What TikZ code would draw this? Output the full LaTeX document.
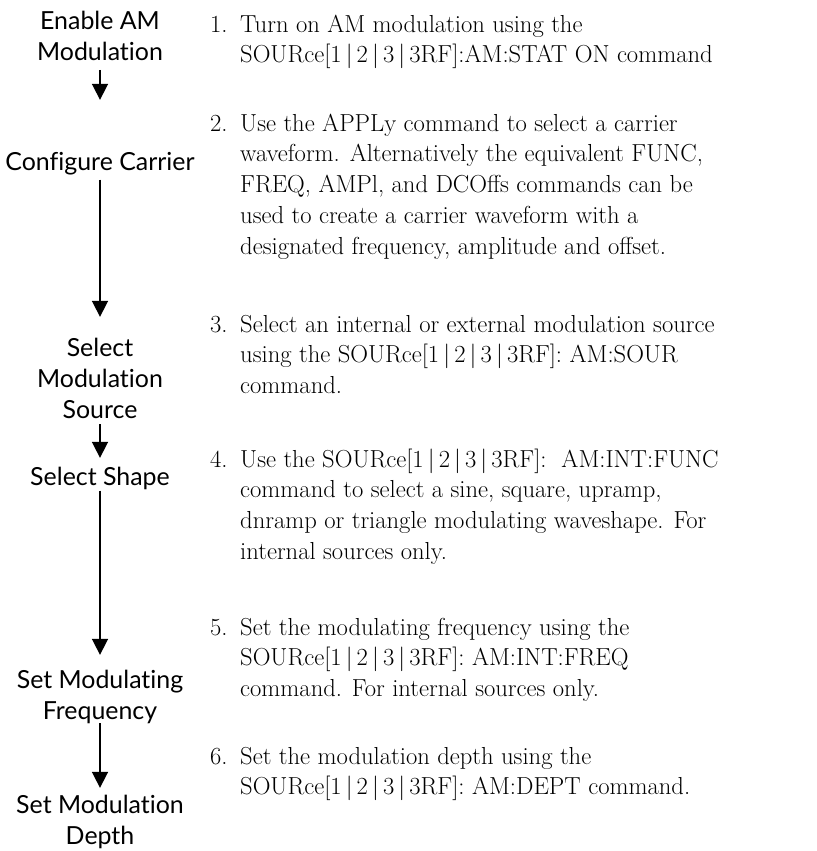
\documentclass[tikz,border=0pt]{standalone}
\usepackage{fontspec}
\usepackage{tikz}
\usetikzlibrary{arrows.meta}
\newfontfamily\labelfont[Ligatures=NoCommon]{Lato}
\newcommand\srcname{SOURce[1\,|\,2\,|\,3\,|\,3RF]}

\begin{document}
\begin{tikzpicture}[x=1bp,y=-1bp,
  steplabel/.style={anchor=base,inner sep=0pt,font=\labelfont\fontsize{25}{31.5}\selectfont},
  stepinfo/.style={anchor=base west,inner sep=0pt,font=\fontsize{24.7}{31}\selectfont},
  flow/.style={-{Triangle[width=16bp,length=16bp]},line width=1.7bp}]
\useasboundingbox (0,0) rectangle (817,851);
% left column
\node[steplabel] (enable) at (100,29) {\begin{tabular}[t]{@{}c@{}}Enable AM\\Modulation\end{tabular}};
\node[steplabel] (carrier) at (100,170) {\begin{tabular}[t]{@{}c@{}}Configure Carrier\end{tabular}};
\node[steplabel] (source) at (100,356) {\begin{tabular}[t]{@{}c@{}}Select\\Modulation\\Source\end{tabular}};
\node[steplabel] (shape) at (100,485) {\begin{tabular}[t]{@{}c@{}}Select Shape\end{tabular}};
\node[steplabel] (freq) at (100,688) {\begin{tabular}[t]{@{}c@{}}Set Modulating\\Frequency\end{tabular}};
\node[steplabel] (depth) at (100,813) {\begin{tabular}[t]{@{}c@{}}Set Modulation\\Depth\end{tabular}};
\draw[flow,shorten >=48bp] (enable) -- (carrier);
\draw[flow,shorten >=17bp] (carrier) -- (source);
\draw[flow,shorten <=-4bp,shorten >=5bp] (source) -- (shape);
\draw[flow,shorten <=-4bp,shorten >=11bp] (shape) -- (freq);
\draw[flow,shorten <=-6bp,shorten >=3bp] (freq) -- (depth);
% right column
\node[stepinfo] (s1) at (210,32) {\begin{tabular}[t]{@{}p{30bp}@{}l@{}}
1. & Turn on AM modulation using the\\
   & \srcname:AM:STAT ON command\end{tabular}};
\node[stepinfo] (s2) at (210,131) {\begin{tabular}[t]{@{}p{30bp}@{}l@{}}
2. & Use the APPLy command to select a carrier\\
   & waveform. Alternatively the equivalent FUNC,\\
   & FREQ, AMPl, and DCOffs commands can be\\
   & used to create a carrier waveform with a\\
   & designated frequency, amplitude and offset.\end{tabular}};
\node[stepinfo] (s3) at (210,332) {\begin{tabular}[t]{@{}p{30bp}@{}l@{}}
3. & Select an internal or external modulation source\\
   & using the \srcname: AM:SOUR\\
   & command.\end{tabular}};
\node[stepinfo] (s4) at (210,467) {\begin{tabular}[t]{@{}p{30bp}@{}l@{}}
4. & Use the \srcname:\ \ AM:INT:FUNC\\
   & command to select a sine, square, upramp,\\
   & dnramp or triangle modulating waveshape. For\\
   & internal sources only.\end{tabular}};
\node[stepinfo] (s5) at (210,635) {\begin{tabular}[t]{@{}p{30bp}@{}l@{}}
5. & Set the modulating frequency using the\\
   & \srcname: AM:INT:FREQ\\
   & command. For internal sources only.\end{tabular}};
\node[stepinfo] (s6) at (210,764) {\begin{tabular}[t]{@{}p{30bp}@{}l@{}}
6. & Set the modulation depth using the\\
   & \srcname: AM:DEPT command.\end{tabular}};
\end{tikzpicture}
\end{document}
